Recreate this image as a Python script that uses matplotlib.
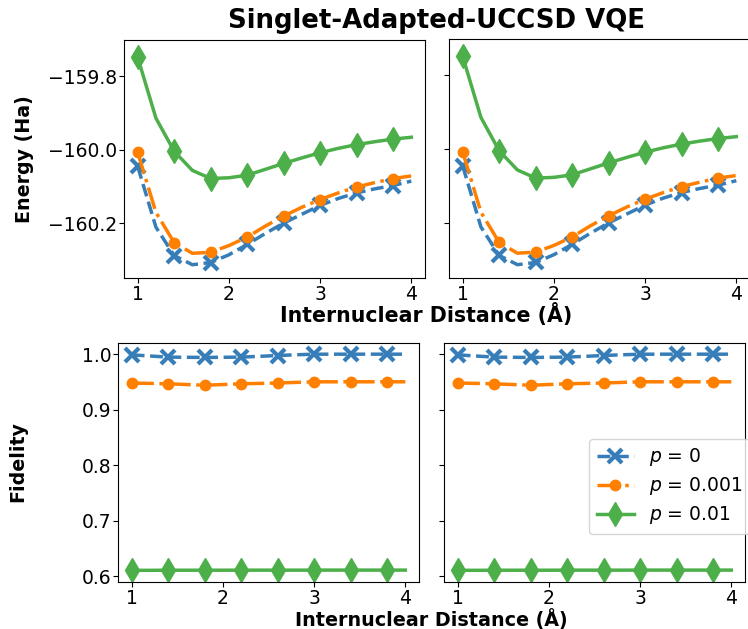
import matplotlib
matplotlib.use('Agg')
import matplotlib.pyplot as plt

# bond distances (Angstrom)
dist = [1.0, 1.2, 1.4, 1.6, 1.8, 2.0, 2.2, 2.4, 2.6, 2.8, 3.0, 3.2, 3.4, 3.6, 3.8, 4.0]

labels = ["$p$ = 0", "$p$ = 0.001", "$p$ = 0.01"]

energy_p0 = [-160.045, -160.21, -160.287, -160.312, -160.306, -160.285, -160.257, -160.227,
             -160.199, -160.175, -160.151, -160.132, -160.117, -160.106, -160.097, -160.085]
energy_p1 = [-160.007, -160.17, -160.252, -160.281, -160.278, -160.26, -160.237, -160.207,
             -160.18, -160.156, -160.135, -160.117, -160.101, -160.089, -160.078, -160.071]
energy_p2 = [-159.749, -159.914, -160.004, -160.056, -160.078, -160.076, -160.069, -160.053,
             -160.037, -160.022, -160.008, -159.996, -159.986, -159.978, -159.971, -159.966]

fid_p0 = [0.9987, 0.9966, 0.9946, 0.9943, 0.994, 0.9943, 0.9946, 0.996,
          0.9975, 0.9988, 0.9998, 0.9999, 0.9999, 0.9999, 0.9999, 0.9999]
fid_p1 = [0.948, 0.9473, 0.9466, 0.9453, 0.944, 0.9453, 0.9466, 0.9473,
          0.948, 0.9491, 0.9502, 0.9502, 0.9502, 0.9502, 0.9502, 0.9502]
fid_p2 = [0.611, 0.611, 0.6112, 0.6112, 0.6112, 0.6112, 0.6113, 0.6113,
          0.6113, 0.6113, 0.6114, 0.6114, 0.6114, 0.6114, 0.6114, 0.6114]

colors = ['#377eb8', '#ff7f00', '#4daf4a']
styles = [dict(ls='--', marker='x', ms=10, mew=3),
          dict(ls='-.', marker='o', ms=7.5, mew=1),
          dict(ls='-', marker='d', ms=12, mew=1)]

plt.rcParams['font.size'] = 13.5
plt.rcParams['xtick.major.pad'] = 1.2
plt.rcParams['ytick.major.pad'] = 1.2

fig = plt.figure(figsize=(7.48, 6.29), dpi=100)
W, H = 748.0, 629.0

def box(l, r, t, b):
    return [l / W, (H - b) / H, (r - l) / W, (b - t) / H]

ax_tl = fig.add_axes(box(124, 425, 40, 278))
ax_tr = fig.add_axes(box(449, 750, 39, 278), sharey=ax_tl)
ax_bl = fig.add_axes(box(118, 419, 343, 582))
ax_br = fig.add_axes(box(444, 745, 343, 582), sharey=ax_bl)

energies = [energy_p0, energy_p1, energy_p2]
fids = [fid_p0, fid_p1, fid_p2]

for ax in [ax_tl, ax_tr]:
    for i in range(3):
        ax.plot(dist, energies[i], color=colors[i], lw=2.5, markevery=2,
                label=labels[i], **styles[i])
for ax in [ax_bl, ax_br]:
    for i in range(3):
        ax.plot(dist, fids[i], color=colors[i], lw=2.5, markevery=2,
                label=labels[i], **styles[i])

ax_tl.set_ylim(-160.348, -159.702)
ax_tl.set_yticks([-160.2, -160.0, -159.8])
ax_bl.set_ylim(0.590, 1.020)
ax_bl.set_yticks([0.6, 0.7, 0.8, 0.9, 1.0])
for ax in [ax_tl, ax_tr, ax_bl, ax_br]:
    ax.set_xticks([1, 2, 3, 4])
plt.setp(ax_tr.get_yticklabels(), visible=False)
plt.setp(ax_br.get_yticklabels(), visible=False)

ax_br.legend(loc='upper left', bbox_to_anchor=(589 / W, 1 - 439 / H),
             bbox_transform=fig.transFigure, fontsize=13.5, borderaxespad=0,
             labelspacing=0.37)

fig.text(437 / W, 1 - 27.5 / H, "Singlet-Adapted-UCCSD VQE", ha='center', va='baseline',
         fontsize=18.7, fontweight='bold')
fig.text(426 / W, 1 - 322 / H, "Internuclear Distance (Å)", ha='center', va='baseline',
         fontsize=14.8, fontweight='bold')
fig.text(431 / W, 1 - 626 / H, "Internuclear Distance (Å)", ha='center', va='baseline',
         fontsize=13.8, fontweight='bold')
fig.text(25 / W, 1 - 159 / H, "Energy (Ha)", ha='center', va='center', rotation=90,
         fontsize=13.7, fontweight='bold')
fig.text(18 / W, 1 - 462 / H, "Fidelity", ha='center', va='center', rotation=90,
         fontsize=13.7, fontweight='bold')

fig.savefig('out.png', dpi=100)
